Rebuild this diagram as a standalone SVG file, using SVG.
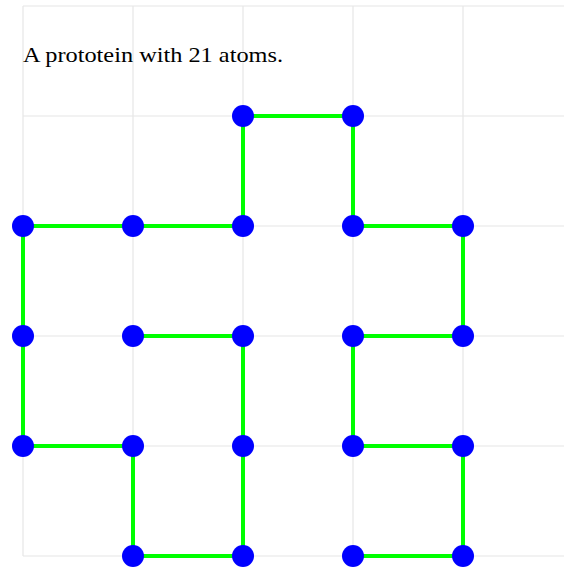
<svg xmlns="http://www.w3.org/2000/svg" width="564" height="569" viewBox="0 0 564 569">
<style>
.grid line{stroke:#e6e6e6;stroke-width:1.2}
.bond{stroke:#00ff00;stroke-width:4;fill:none}
.atom{fill:#0000ff}
.title{font-family:"Liberation Serif","DejaVu Serif",serif;font-size:21px;fill:#000}
</style>
<rect width="564" height="569" fill="#fff"/>
<g class="grid" id="grid">
<line x1="23" y1="6" x2="564" y2="6"/>
<line x1="23" y1="116" x2="564" y2="116"/>
<line x1="23" y1="226" x2="564" y2="226"/>
<line x1="23" y1="336" x2="564" y2="336"/>
<line x1="23" y1="446" x2="564" y2="446"/>
<line x1="23" y1="556" x2="564" y2="556"/>
<line x1="23" y1="6" x2="23" y2="556"/>
<line x1="133" y1="6" x2="133" y2="556"/>
<line x1="243" y1="6" x2="243" y2="556"/>
<line x1="353" y1="6" x2="353" y2="556"/>
<line x1="463" y1="6" x2="463" y2="556"/>
</g>
<text class="title" x="23" y="62" textLength="260" lengthAdjust="spacingAndGlyphs">A prototein with 21 atoms.</text>
<g id="connectors">
<polyline class="bond" points="133,336 243,336 243,446 243,556 133,556 133,446 23,446 23,336 23,226 133,226 243,226 243,116 353,116 353,226 463,226 463,336 353,336 353,446 463,446 463,556 353,556"/>
</g>
<g id="atom1"><circle class="atom" cx="133" cy="336" r="11"/></g>
<g id="atom2"><circle class="atom" cx="243" cy="336" r="11"/></g>
<g id="atom3"><circle class="atom" cx="243" cy="446" r="11"/></g>
<g id="atom4"><circle class="atom" cx="243" cy="556" r="11"/></g>
<g id="atom5"><circle class="atom" cx="133" cy="556" r="11"/></g>
<g id="atom6"><circle class="atom" cx="133" cy="446" r="11"/></g>
<g id="atom7"><circle class="atom" cx="23" cy="446" r="11"/></g>
<g id="atom8"><circle class="atom" cx="23" cy="336" r="11"/></g>
<g id="atom9"><circle class="atom" cx="23" cy="226" r="11"/></g>
<g id="atom10"><circle class="atom" cx="133" cy="226" r="11"/></g>
<g id="atom11"><circle class="atom" cx="243" cy="226" r="11"/></g>
<g id="atom12"><circle class="atom" cx="243" cy="116" r="11"/></g>
<g id="atom13"><circle class="atom" cx="353" cy="116" r="11"/></g>
<g id="atom14"><circle class="atom" cx="353" cy="226" r="11"/></g>
<g id="atom15"><circle class="atom" cx="463" cy="226" r="11"/></g>
<g id="atom16"><circle class="atom" cx="463" cy="336" r="11"/></g>
<g id="atom17"><circle class="atom" cx="353" cy="336" r="11"/></g>
<g id="atom18"><circle class="atom" cx="353" cy="446" r="11"/></g>
<g id="atom19"><circle class="atom" cx="463" cy="446" r="11"/></g>
<g id="atom20"><circle class="atom" cx="463" cy="556" r="11"/></g>
<g id="atom21"><circle class="atom" cx="353" cy="556" r="11"/></g>
</svg>
